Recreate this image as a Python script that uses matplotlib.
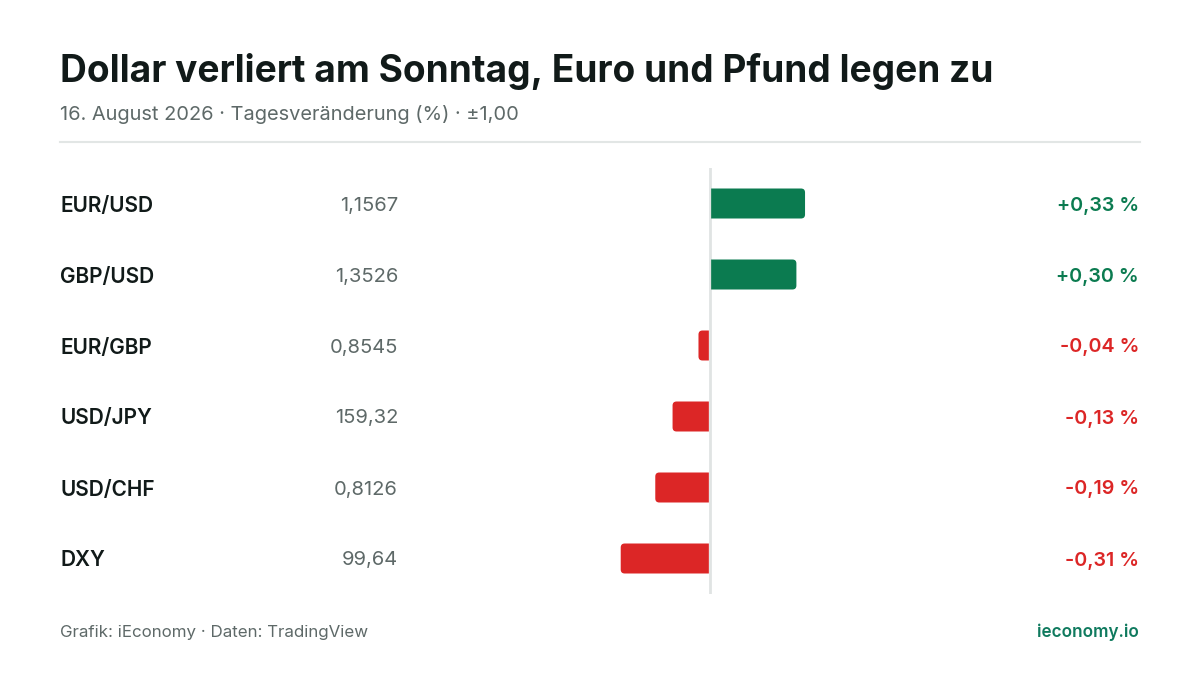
import matplotlib
matplotlib.use("Agg")
import matplotlib.pyplot as plt
from matplotlib.patches import PathPatch
from matplotlib.path import Path
from matplotlib.transforms import blended_transform_factory

plt.rcParams['font.family'] = ['Inter', 'DejaVu Sans']

pairs = ["EUR/USD", "GBP/USD", "EUR/GBP", "USD/JPY", "USD/CHF", "DXY"]
rates = ["1,1567", "1,3526", "0,8545", "159,32", "0,8126", "99,64"]
changes = [0.33, 0.30, -0.04, -0.13, -0.19, -0.31]

title = "Dollar verliert am Sonntag, Euro und Pfund legen zu"
subtitle = "16. August 2026 · Tagesveränderung (%) · ±1,00"
source = "Grafik: iEconomy · Daten: TradingView"
brand = "ieconomy.io"

GREEN = "#0b7b50"
RED = "#dc2626"
DARK = "#111a19"
GRAY = "#5e6968"

W, H = 1200, 675
fig = plt.figure(figsize=(W / 100, H / 100), dpi=100)
fig.patch.set_facecolor("white")

def fx(px):
    return px / W

def fy(py):
    return 1 - py / H

fig.text(fx(60), fy(82), title, fontsize=26.7, fontweight="bold", color=DARK,
         ha="left", va="baseline")
fig.text(fx(60), fy(120), subtitle, fontsize=14.4, color=GRAY,
         ha="left", va="baseline")
fig.add_artist(plt.Line2D([fx(60), fx(1140)], [fy(142), fy(142)],
                          color="#e2e6e5", lw=1.5, transform=fig.transFigure))

# bar axes: x -1..1 over pixels 422..998, rows over 168..594
ax = fig.add_axes([fx(422), fy(594), fx(998) - fx(422), (594 - 168) / H])
ax.set_xlim(-1, 1)
ax.set_ylim(len(pairs) - 0.5, -0.5)
ax.axis("off")
ax.axvline(0, color="#e0e4e3", lw=2, zorder=1)

bh = 30 / 71.0
rx = 4 / 288.0
ry = 4 / 71.0
gap = 0.004


def bar_path(v, yc):
    s = 1 if v >= 0 else -1
    x0 = s * gap
    x1 = v
    yt, yb = yc - bh / 2, yc + bh / 2
    xe = x1 - s * rx
    verts = [
        (x0, yt), (xe, yt),
        (x1, yt), (x1, yt + ry),
        (x1, yb - ry),
        (x1, yb), (xe, yb),
        (x0, yb), (x0, yt),
    ]
    codes = [Path.MOVETO, Path.LINETO,
             Path.CURVE3, Path.CURVE3,
             Path.LINETO,
             Path.CURVE3, Path.CURVE3,
             Path.LINETO, Path.CLOSEPOLY]
    return Path(verts, codes)


for i, v in enumerate(changes):
    c = GREEN if v >= 0 else RED
    ax.add_patch(PathPatch(bar_path(v, i), fc=c, ec="none", zorder=2))

tr = blended_transform_factory(fig.transFigure, ax.transData)
for i, (name, rate, v) in enumerate(zip(pairs, rates, changes)):
    ax.text(fx(60), i, name, transform=tr, fontsize=15, fontweight="semibold",
            color=DARK, ha="left", va="center_baseline")
    ax.text(fx(398), i, rate, transform=tr, fontsize=14.5, color=GRAY,
            ha="right", va="center_baseline")
    s = ("+" if v >= 0 else "-") + f"{abs(v):.2f}".replace(".", ",") + " %"
    ax.text(fx(1139), i, s, transform=tr, fontsize=14.2, fontweight="semibold",
            color=GREEN if v >= 0 else RED, ha="right", va="center_baseline")

fig.text(fx(60), fy(637), source, fontsize=12.2, color=GRAY, ha="left", va="baseline")
fig.text(fx(1139), fy(637), brand, fontsize=12.3, fontweight="semibold", color="#0f7a5e",
         ha="right", va="baseline")

fig.savefig("out.png", dpi=100, facecolor="white")
